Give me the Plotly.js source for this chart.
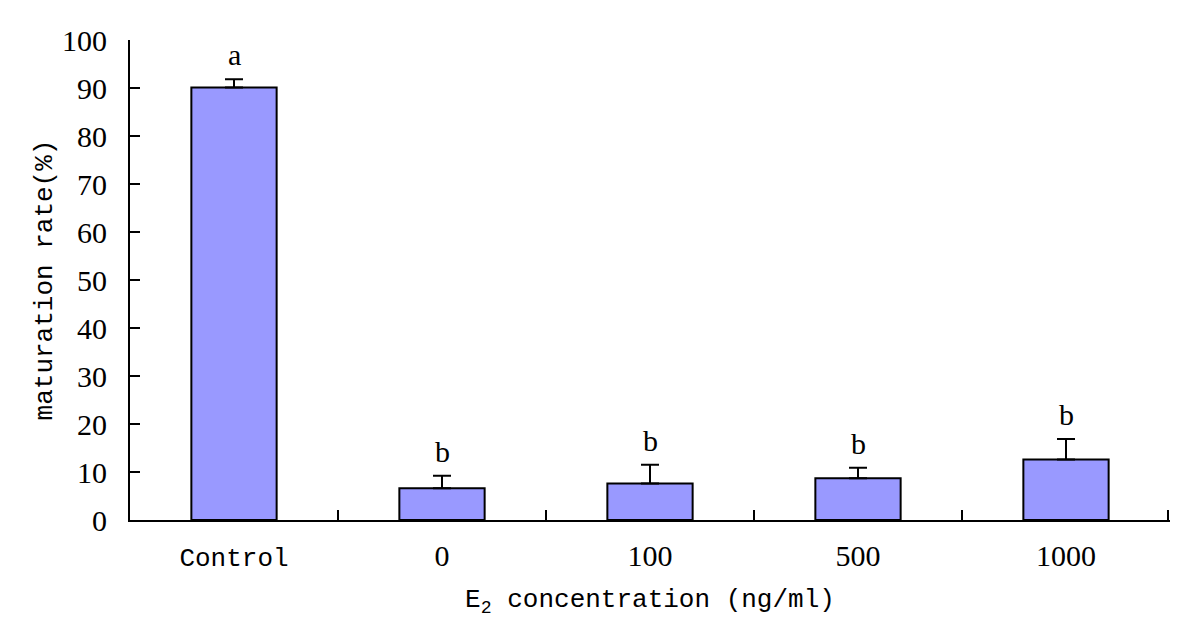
<!DOCTYPE html>
<html>
<head>
<meta charset="utf-8">
<script src="https://cdn.plot.ly/plotly-3.0.1.min.js"></script>
<style>html,body{margin:0;padding:0;background:#fff;}#chart{width:1200px;height:632px;}</style>
</head>
<body>
<div id="chart"></div>
<script>
const categories = ["Control", "0", "100", "500", "1000"];
const rates = [90.1, 6.6, 7.6, 8.7, 12.6];
const errors = [1.7, 2.6, 3.9, 2.2, 4.3];
const letters = ["a", "b", "b", "b", "b"];

const serif = "Liberation Serif, Times New Roman, serif";
const mono = "Liberation Mono, Courier New, monospace";

const tickText = categories.map(c => c === "Control" ? '<span style="font-family:' + mono + ';font-size:26px">' + c + '</span>' : c);
const positions = categories.map((c, i) => i);

const trace = {
  type: "bar",
  x: positions,
  y: rates,
  width: 0.41,
  marker: {color: "#9999ff", line: {color: "#000", width: 2}},
  error_y: {type: "data", array: errors, arrayminus: errors.map(() => 0), symmetric: false, color: "#000", thickness: 2, width: 9},
  hoverinfo: "none"
};

const annotations = positions.map((p, i) => ({
  x: p, y: rates[i] + errors[i], xref: "x", yref: "y",
  text: letters[i], showarrow: false, yanchor: "bottom", yshift: 6,
  font: {family: serif, size: 30, color: "#000"}
}));

// boundary ticks between categories (last one nudged inside the range so it is drawn)
const boundaries = categories.map((c, i) => Math.min(i + 0.5, 4.49));

const layout = {
  width: 1200, height: 632,
  margin: {l: 130, r: 30, t: 40, b: 112},
  paper_bgcolor: "#fff", plot_bgcolor: "#fff",
  showlegend: false,
  xaxis: {
    type: "linear",
    range: [-0.5, 4.5],
    tickmode: "array", tickvals: positions, ticktext: tickText,
    ticks: "",
    showline: true, linecolor: "#000", linewidth: 2,
    showgrid: false, zeroline: false,
    ticklabelstandoff: 8,
    tickfont: {family: serif, size: 30, color: "#000"},
    title: {text: "E<sub>2</sub> concentration (ng/ml)", font: {family: mono, size: 26, color: "#000"}, standoff: 16}
  },
  xaxis2: {
    overlaying: "x", matches: "x", range: [-0.5, 4.5],
    tickmode: "array", tickvals: boundaries, showticklabels: false,
    ticks: "inside", ticklen: 10, tickwidth: 2, tickcolor: "#000",
    showline: false, showgrid: false, zeroline: false, side: "bottom", anchor: "y"
  },
  yaxis: {
    range: [0, 100], dtick: 10, tick0: 0,
    ticks: "inside", ticklen: 10, tickwidth: 2, tickcolor: "#000",
    showline: true, linecolor: "#000", linewidth: 2,
    showgrid: false, zeroline: false,
    ticklabelstandoff: 15,
    tickfont: {family: serif, size: 30, color: "#000"},
    title: {text: "maturation rate(%)", font: {family: mono, size: 26, color: "#000"}, standoff: 2}
  },
  annotations: annotations
};

const helper = {type: "scatter", x: [0], y: [0], xaxis: "x2", yaxis: "y", mode: "markers", marker: {opacity: 0}, hoverinfo: "none", showlegend: false};

Plotly.newPlot("chart", [trace, helper], layout, {displayModeBar: false, staticPlot: true});
</script>
</body>
</html>
